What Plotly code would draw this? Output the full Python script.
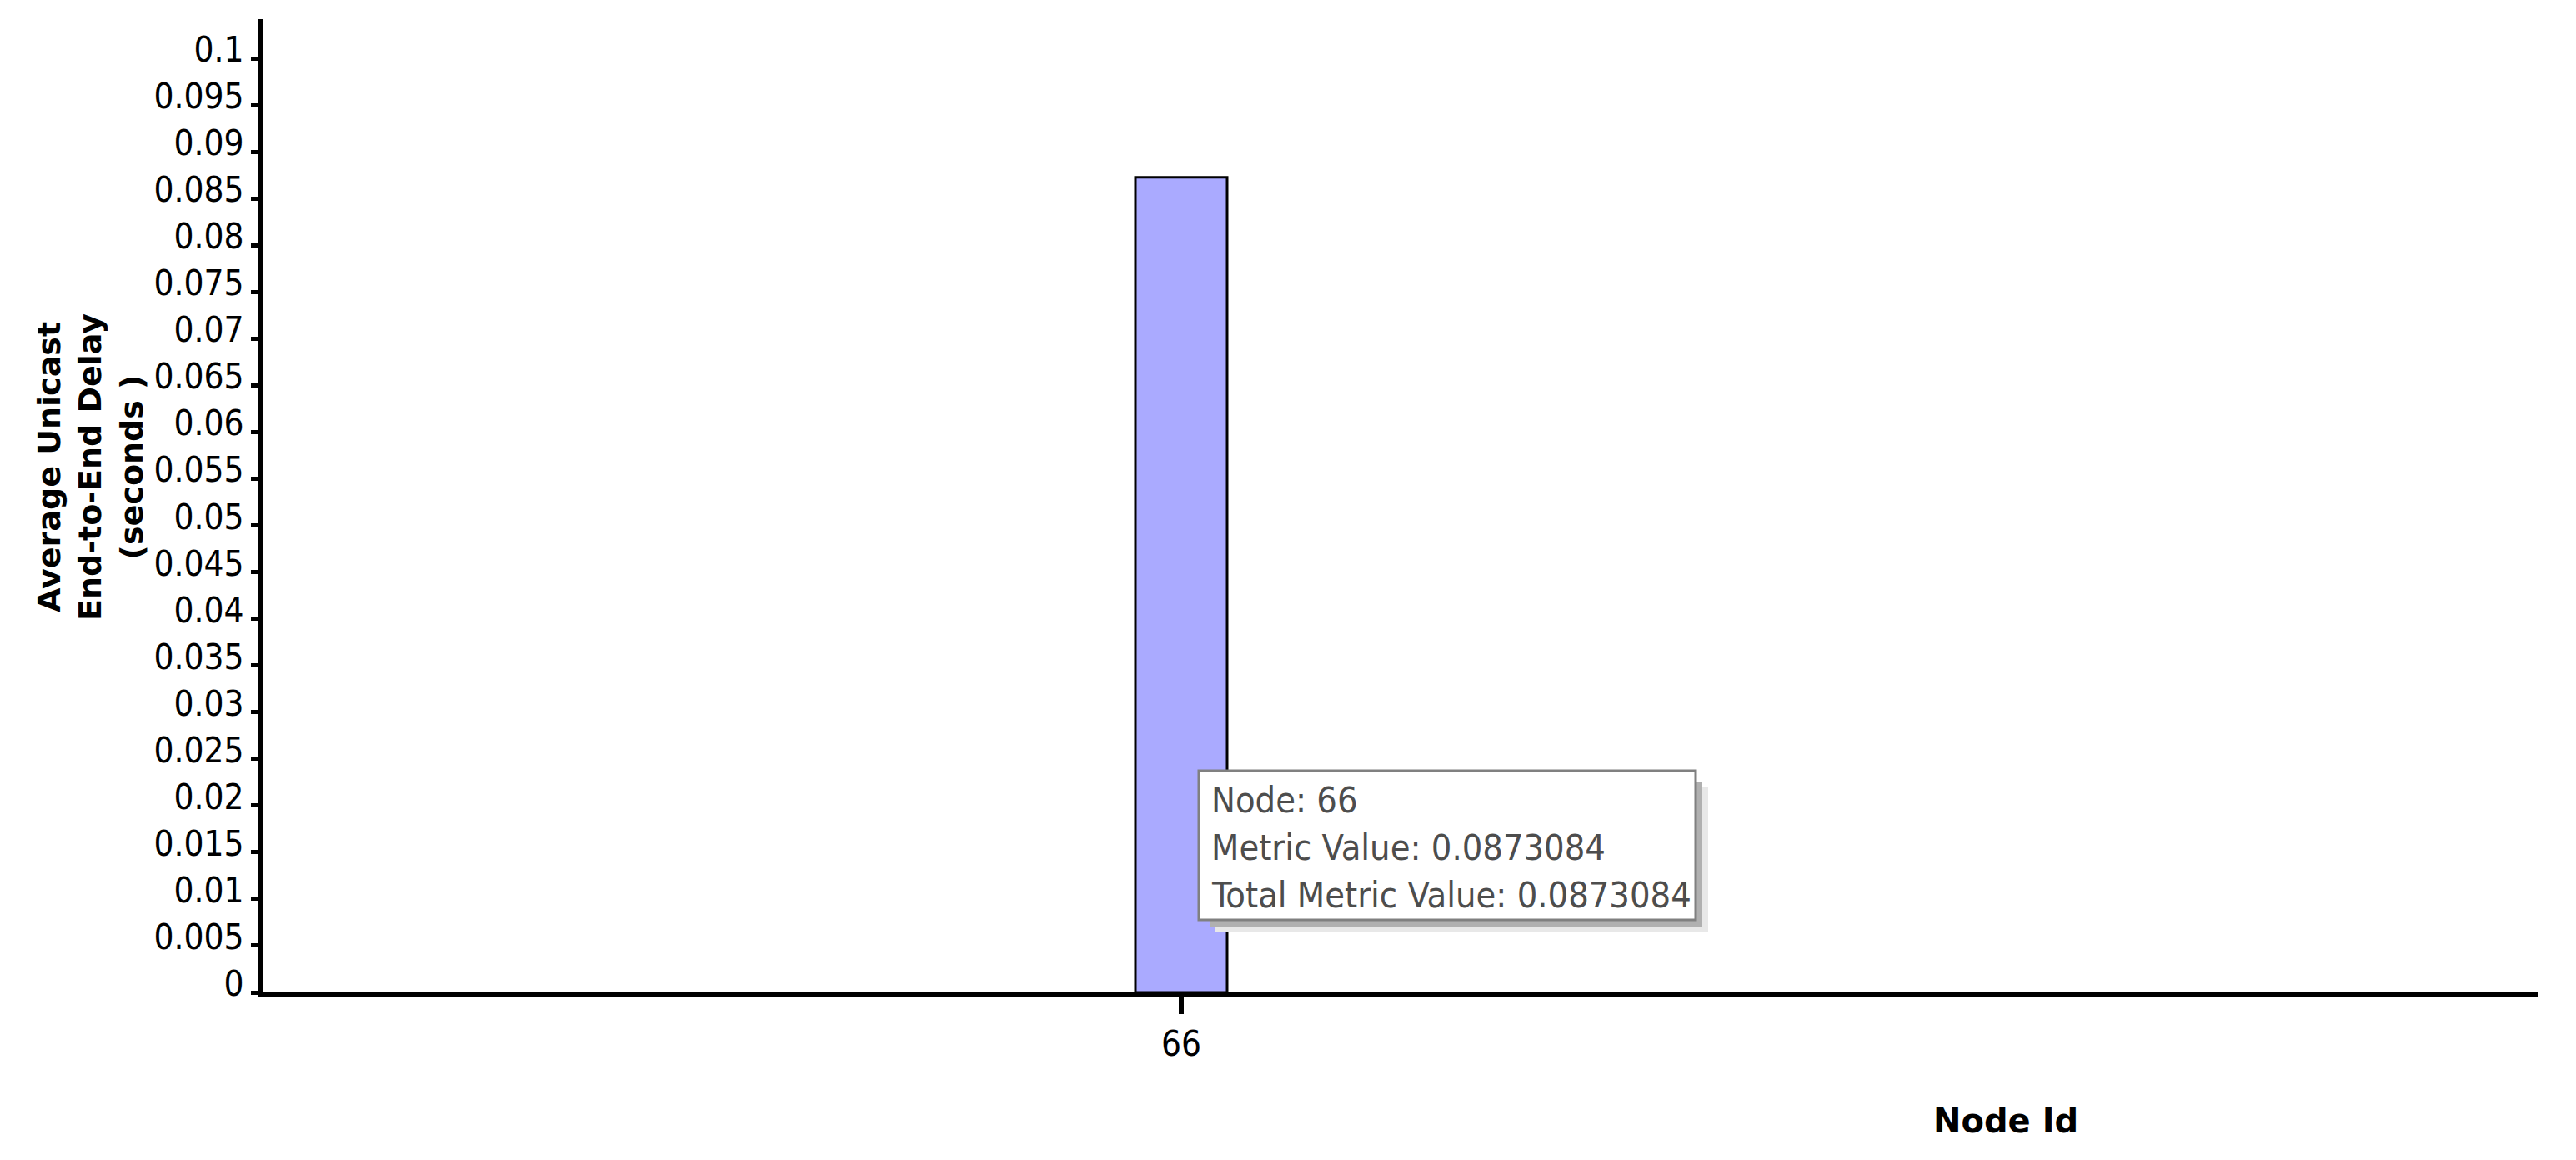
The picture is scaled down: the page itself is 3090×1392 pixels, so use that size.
import plotly.graph_objects as go

# ---- data ----
node_ids = ["66"]
metric_values = [0.0873084]
total_metric_values = [0.0873084]
y_tick_values = [i * 0.005 for i in range(21)]
y_tick_labels = ["0", "0.005", "0.01", "0.015", "0.02", "0.025", "0.03", "0.035", "0.04",
                 "0.045", "0.05", "0.055", "0.06", "0.065", "0.07", "0.075", "0.08",
                 "0.085", "0.09", "0.095", "0.1"]
y_title_lines = ["Average Unicast", "End-to-End Delay", "(seconds )"]
x_title = "Node Id"
tooltip_lines = [f"Node: {node_ids[0]}",
                 f"Metric Value: {metric_values[0]}",
                 f"Total Metric Value: {total_metric_values[0]}"]

W, H = 3090, 1392
L, R, T, B = 315, 46, 23, 201
PW = W - L - R
PH = H - T - B


def px_x(p):
    return (p - L) / PW


def px_y(p):
    return (H - B - p) / PH


TICK_FONT = "DejaVu Sans Condensed, Liberation Sans, sans-serif"
TITLE_FONT = "DejaVu Sans, Verdana, sans-serif"

bar_center_px = 1417
x_range = [-px_x(bar_center_px), 1 - px_x(bar_center_px)]

fig = go.Figure()
fig.add_trace(go.Bar(
    x=node_ids, y=metric_values,
    width=110 / PW,
    marker=dict(color="#AAAAFF", line=dict(color="black", width=3)),
    hoverinfo="skip",
))

shapes = []
# tooltip shadow
shapes.append(dict(type="rect", xref="paper", yref="paper",
                   x0=px_x(1457), x1=px_x(2049), y0=px_y(944), y1=px_y(1119),
                   fillcolor="#e8e8e8", line=dict(width=0), layer="above"))
shapes.append(dict(type="rect", xref="paper", yref="paper",
                   x0=px_x(1452), x1=px_x(2042), y0=px_y(938), y1=px_y(1112),
                   fillcolor="#b0b0b0", line=dict(width=0), layer="above"))
# tooltip box
shapes.append(dict(type="rect", xref="paper", yref="paper",
                   x0=px_x(1438), x1=px_x(2034), y0=px_y(925), y1=px_y(1104),
                   fillcolor="white", line=dict(color="#808080", width=3), layer="above"))
fig.update_layout(shapes=shapes)

annotations = []
for i, line in enumerate(tooltip_lines):
    annotations.append(dict(
        text=line, xref="paper", yref="paper",
        x=px_x(1451), y=px_y(960 + 57 * i),
        xanchor="left", yanchor="middle", showarrow=False,
        font=dict(family=TICK_FONT, size=43, color="#4d4d4d"),
    ))
annotations.append(dict(
    text="<br>".join(y_title_lines), xref="paper", yref="paper",
    x=px_x(108), y=px_y(560), xanchor="center", yanchor="middle",
    textangle=-90, showarrow=False, align="center",
    font=dict(family=TITLE_FONT, size=38, color="black", weight="bold"),
))
annotations.append(dict(
    text=x_title, xref="paper", yref="paper",
    x=px_x(2406), y=px_y(1345), xanchor="center", yanchor="middle",
    showarrow=False,
    font=dict(family=TITLE_FONT, size=40, color="black", weight="bold"),
))
fig.update_layout(annotations=annotations)

fig.update_layout(
    width=W, height=H,
    margin=dict(l=L, r=R, t=T, b=B, pad=0),
    paper_bgcolor="white", plot_bgcolor="white",
    showlegend=False,
    xaxis=dict(
        type="category", range=x_range,
        showgrid=False, zeroline=False,
        showline=True, linecolor="black", linewidth=6,
        ticks="outside", ticklen=20, tickwidth=6, tickcolor="black",
        tickfont=dict(family=TICK_FONT, size=42, color="black"),
    ),
    yaxis=dict(
        range=[0, 0.10425],
        tickmode="array", tickvals=y_tick_values, ticktext=y_tick_labels,
        showgrid=False, zeroline=False,
        showline=True, linecolor="black", linewidth=6,
        ticks="outside", ticklen=8, tickwidth=5, tickcolor="black",
        tickfont=dict(family=TICK_FONT, size=42, color="black"),
        ticklabelshift=-11,
    ),
)

fig.write_html("out.html", config={"displayModeBar": False},
               post_script="document.body.style.margin='0';")
